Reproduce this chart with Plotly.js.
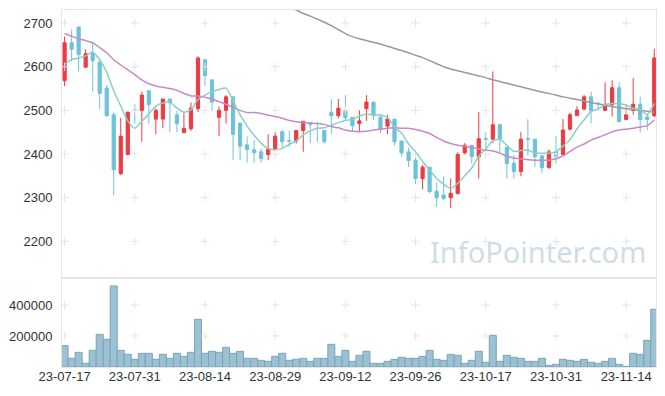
<!DOCTYPE html>
<html>
<head>
<meta charset="utf-8">
<script src="https://cdn.plot.ly/plotly-3.0.1.min.js"></script>
<style>html,body{margin:0;padding:0;background:#fff;}#chart{width:665px;height:396px;}</style>
</head>
<body>
<div id="chart"></div>
<script>
const dates = [
 "23-07-17","23-07-18","23-07-19","23-07-20","23-07-21","23-07-24","23-07-25","23-07-26","23-07-27","23-07-28",
 "23-07-31","23-08-01","23-08-02","23-08-03","23-08-04","23-08-07","23-08-08","23-08-09","23-08-10","23-08-11",
 "23-08-14","23-08-16","23-08-17","23-08-18","23-08-21","23-08-22","23-08-23","23-08-24","23-08-25","23-08-28",
 "23-08-29","23-08-30","23-08-31","23-09-01","23-09-04","23-09-05","23-09-06","23-09-07","23-09-08","23-09-11",
 "23-09-12","23-09-13","23-09-14","23-09-15","23-09-18","23-09-19","23-09-20","23-09-21","23-09-22","23-09-25",
 "23-09-26","23-09-27","23-10-04","23-10-05","23-10-06","23-10-10","23-10-11","23-10-12","23-10-13","23-10-16",
 "23-10-17","23-10-18","23-10-19","23-10-20","23-10-23","23-10-24","23-10-25","23-10-26","23-10-27","23-10-30",
 "23-10-31","23-11-01","23-11-02","23-11-03","23-11-06","23-11-07","23-11-08","23-11-09","23-11-10","23-11-13",
 "23-11-14","23-11-15","23-11-16","23-11-17","23-11-20"
];
const openP = [
 2568,2655,2691,2599,2630,2611,2551,2490,2355,2399,
 2501,2500,2545,2480,2480,2526,2490,2449,2458,2504,
 2616,2570,2484,2500,2531,2471,2421,2410,2405,2399,
 2410,2451,2431,2430,2454,2472,2471,2454,2496,2488,
 2500,2484,2470,2504,2519,2484,2464,2480,2430,2405,
 2386,2344,2370,2315,2306,2300,2309,2403,2420,2394,
 2435,2434,2467,2415,2379,2360,2435,2434,2396,2369,
 2405,2399,2457,2488,2503,2531,2516,2500,2513,2552,
 2479,2500,2514,2485,2488
];
const highP = [
 2669,2685,2691,2640,2655,2611,2558,2496,2483,2496,
 2514,2543,2545,2505,2526,2526,2499,2495,2518,2624,
 2616,2570,2509,2535,2531,2471,2440,2432,2413,2445,
 2450,2455,2453,2454,2475,2472,2471,2454,2526,2526,
 2535,2484,2500,2535,2519,2492,2490,2480,2430,2415,
 2396,2375,2370,2335,2349,2344,2404,2425,2420,2496,
 2450,2589,2470,2415,2398,2450,2480,2434,2396,2411,
 2441,2480,2495,2510,2535,2543,2520,2564,2569,2564,
 2514,2574,2531,2493,2641
];
const lowP = [
 2555,2612,2589,2599,2543,2503,2485,2305,2352,2399,
 2470,2428,2469,2445,2459,2450,2450,2449,2453,2496,
 2556,2499,2441,2470,2386,2386,2380,2380,2380,2386,
 2410,2416,2416,2424,2405,2425,2428,2424,2446,2482,
 2476,2451,2450,2476,2478,2448,2446,2420,2394,2370,
 2331,2319,2310,2279,2294,2276,2309,2399,2379,2344,
 2405,2425,2400,2344,2344,2349,2396,2370,2356,2366,
 2379,2399,2454,2488,2500,2470,2500,2500,2486,2474,
 2479,2490,2450,2455,2484
];
const closeP = [
 2655,2640,2628,2630,2614,2539,2488,2364,2441,2496,
 2500,2535,2513,2500,2526,2517,2470,2459,2505,2620,
 2580,2519,2500,2531,2445,2418,2410,2403,2390,2412,
 2441,2428,2430,2454,2475,2467,2470,2428,2488,2505,
 2483,2465,2476,2519,2488,2457,2480,2428,2403,2385,
 2344,2370,2314,2300,2298,2310,2399,2420,2394,2435,
 2434,2467,2434,2378,2360,2434,2434,2394,2369,2405,
 2394,2455,2490,2501,2531,2499,2515,2514,2552,2474,
 2490,2514,2479,2479,2620
];
const volume = [
 137600,55900,94600,23700,107500,210700,178500,522600,107500,81700,
 49500,88200,88200,49500,81700,55900,88200,68800,94600,307500,
 88200,101100,94600,126900,88200,101100,55900,55900,43000,36600,
 68800,88200,43000,49500,55900,36600,55900,55900,146200,68800,
 107500,36600,75300,101100,23700,23700,36600,49500,62400,55900,
 55900,68800,107500,49500,43000,81700,75300,23700,43000,101100,
 30100,204300,36600,75300,62400,55900,36600,36600,55900,10800,
 17200,49500,43000,36600,49500,30100,23700,36600,55900,17200,
 4300,88200,81700,172000,372000
];
const ma5 = [
 2605,2617,2620,2625,2634,2616,2587,2545,2510,2476,
 2459,2475,2492,2510,2517,2519,2505,2496,2501,2525,
 2535,2543,2548,2551,2522,2490,2464,2443,2425,2412,
 2410,2413,2422,2430,2444,2453,2459,2460,2466,2472,
 2477,2479,2487,2491,2490,2489,2484,2462,2448,2423,
 2405,2383,2363,2344,2331,2321,2333,2350,2368,2395,
 2412,2430,2434,2420,2406,2408,2409,2402,2402,2402,
 2405,2418,2433,2458,2478,2498,2503,2513,2516,2515,
 2512,2505,2502,2490,2516
];
const ma20 = [
 2676,2670,2664,2660,2655,2644,2632,2616,2604,2593,
 2582,2570,2561,2556,2553,2550,2546,2539,2533,2533,
 2530,2526,2520,2514,2507,2500,2495,2495,2493,2489,
 2486,2482,2477,2474,2472,2471,2470,2468,2463,2460,
 2455,2452,2451,2452,2455,2457,2459,2460,2459,2459,
 2456,2452,2447,2438,2430,2424,2420,2418,2415,2412,
 2409,2407,2402,2395,2391,2389,2387,2386,2386,2386,
 2389,2396,2406,2416,2423,2432,2438,2444,2451,2455,
 2457,2459,2462,2465,2478
];
const ma120 = [
 null,null,null,null,null,null,null,null,null,null,
 null,null,null,null,null,null,null,null,null,null,
 null,null,null,null,null,null,null,null,null,null,
 null,null,2738,2730,2722,2716,2709,2702,2694,2685,
 2676,2669,2664,2660,2656,2652,2647,2642,2637,2632,
 2626,2621,2614,2607,2600,2595,2591,2587,2583,2579,
 2575,2570,2566,2562,2558,2554,2550,2546,2542,2539,
 2535,2531,2528,2525,2521,2518,2515,2512,2509,2506,
 2504,2502,2500,2498,2496
];
const dateTicks = ["23-07-17","23-07-31","23-08-14","23-08-29","23-09-12","23-09-26","23-10-17","23-10-31","23-11-14"];
const priceTicks = [2200,2300,2400,2500,2600,2700];
const volTicks = [200000,400000];

function crossGrid(yt){
  const gx=[],gy=[];
  yt.forEach(v=>dateTicks.forEach(d=>{gx.push(d);gy.push(v);}));
  return [gx,gy];
}
const [pgx,pgy]=crossGrid(priceTicks);
const [vgx,vgy]=crossGrid(volTicks);

const UP='#ee3a40', DOWN='#6cc3d9';
const gridMarker = {symbol:'cross-thin',size:6,line:{color:'#e4e4e4',width:1}};
const traces = [
 {type:'candlestick',x:dates,open:openP,high:highP,low:lowP,close:closeP,xaxis:'x',yaxis:'y',
  increasing:{line:{color:UP,width:1},fillcolor:UP},
  decreasing:{line:{color:DOWN,width:1},fillcolor:DOWN},
  whiskerwidth:0,showlegend:false},
 {type:'bar',x:dates,y:volume,xaxis:'x2',yaxis:'y2',
  marker:{color:'#9bc1d3',line:{color:'#78a5ba',width:1}},showlegend:false},
 {type:'scatter',mode:'markers',x:pgx,y:pgy,xaxis:'x',yaxis:'y',marker:gridMarker,hoverinfo:'skip',showlegend:false},
 {type:'scatter',mode:'markers',x:vgx,y:vgy,xaxis:'x2',yaxis:'y2',marker:gridMarker,hoverinfo:'skip',showlegend:false},
 {type:'scatter',mode:'lines',x:dates,y:ma120,xaxis:'x',yaxis:'y',line:{color:'#9a9a9a',width:1.5,shape:'spline',smoothing:0.6},showlegend:false},
 {type:'scatter',mode:'lines',x:dates,y:ma20,xaxis:'x',yaxis:'y',line:{color:'#cc88c4',width:1.5,shape:'spline',smoothing:0.6},showlegend:false},
 {type:'scatter',mode:'lines',x:dates,y:ma5,xaxis:'x',yaxis:'y',line:{color:'#8ccfc2',width:1.5,shape:'spline',smoothing:0.6},showlegend:false}
];

const tickFont = {family:'Liberation Sans, Arial, sans-serif',size:13,color:'#333'};
const split = 89/357;
const layout = {
  width:665,height:396,
  margin:{l:62,r:9,t:10,b:29},
  paper_bgcolor:'#fff',plot_bgcolor:'#fff',
  showlegend:false,
  boxgap:0.35,bargap:0,
  xaxis:{type:'category',categoryorder:'array',categoryarray:dates,range:[-0.37,84.25],anchor:'y',showticklabels:false,ticks:'',
    showgrid:false,zeroline:false,showline:true,mirror:true,linecolor:'#e6e6e6',linewidth:1,
    rangeslider:{visible:false},fixedrange:true},
  xaxis2:{type:'category',categoryorder:'array',categoryarray:dates,matches:'x',range:[-0.37,84.25],anchor:'y2',tickvals:dateTicks,ticktext:dateTicks,
    ticks:'',ticklabelstandoff:-3,tickfont:tickFont,
    showgrid:false,zeroline:false,showline:true,mirror:true,linecolor:'#e6e6e6',linewidth:1},
  yaxis:{domain:[split,1],range:[2116,2730],tickvals:priceTicks,ticks:'outside',ticklen:6,tickcolor:'rgba(0,0,0,0)',
    tickfont:tickFont,showgrid:false,zeroline:false,showline:true,mirror:true,linecolor:'#e6e6e6',linewidth:1},
  yaxis2:{domain:[0,split],range:[0,574000],tickvals:volTicks,tickformat:'d',ticks:'outside',ticklen:6,tickcolor:'rgba(0,0,0,0)',
    tickfont:tickFont,showgrid:false,zeroline:false,showline:true,mirror:true,linecolor:'#e6e6e6',linewidth:1},
  annotations:[{text:'InfoPointer.com',xref:'paper',yref:'paper',x:0.9865,y:0.262,xanchor:'right',yanchor:'bottom',
    showarrow:false,font:{family:'Noto Sans, sans-serif',size:29,color:'#cfdde8'}}]
};
Plotly.newPlot('chart',traces,layout,{staticPlot:true,displayModeBar:false});
</script>
</body>
</html>
